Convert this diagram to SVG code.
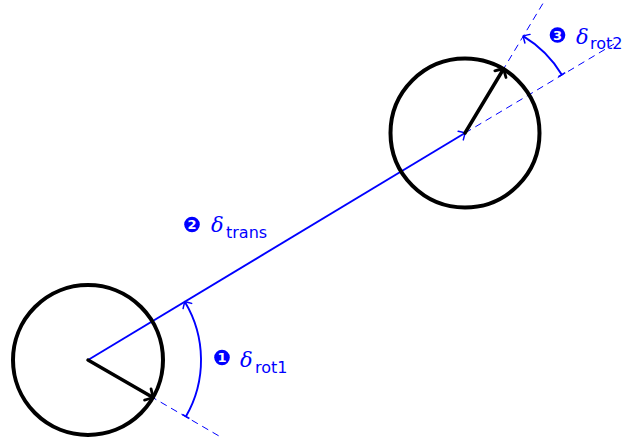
<svg xmlns="http://www.w3.org/2000/svg" width="624" height="441" viewBox="0 0 624 441">
<style>
.robot{fill:none;stroke:#000;stroke-width:4}
.head{fill:none;stroke:#000;stroke-width:3.5;stroke-linecap:round}
.dash{fill:none;stroke:#0000ff;stroke-width:1;stroke-dasharray:7,5}
.trans{fill:none;stroke:#0000ff;stroke-width:1.9}
.arc{fill:none;stroke:#0000ff;stroke-width:1.9}
.num{fill:#0000ff}
.numt{fill:#fff;font-family:"DejaVu Sans",sans-serif;font-weight:bold;font-size:13px;text-anchor:middle}
.delta{fill:#0000ff;font-family:"DejaVu Serif",serif;font-style:italic;font-size:21px}
.sub{fill:#0000ff;font-family:"DejaVu Sans",sans-serif;font-size:16px}
</style>
<defs>
<marker id="toBlack" markerUnits="userSpaceOnUse" orient="auto" overflow="visible" markerWidth="1" markerHeight="1">
<path d="M-6,-6.5 Q-1.2,-1.5 0,0 Q-1.2,1.5 -6,6.5" fill="none" stroke="#000" stroke-width="2.8" stroke-linecap="round"/>
</marker>
<marker id="toBlue" markerUnits="userSpaceOnUse" orient="auto" overflow="visible" markerWidth="1" markerHeight="1">
<path d="M-5,-5 Q-1,-1.2 0,0 Q-1,1.2 -5,5" fill="none" stroke="#0000ff" stroke-width="1.5" stroke-linecap="round"/>
</marker>
<marker id="bar" markerUnits="userSpaceOnUse" orient="auto" overflow="visible" markerWidth="1" markerHeight="1">
<path d="M0,-4 L0,4" fill="none" stroke="#0000ff" stroke-width="1.5"/>
</marker>
</defs>
<g id="connectors">
<line class="dash" x1="88" y1="360" x2="219" y2="436"/>
<line class="dash" x1="465" y1="133" x2="614" y2="44"/>
<line class="dash" x1="465" y1="133" x2="545" y2="0"/>
<line class="trans" x1="88" y1="360" x2="465" y2="133" marker-end="url(#toBlue)"/>
<path class="arc" d="M185.9,416.5 A113,113 0 0 0 184.8,301.7" marker-start="url(#bar)" marker-end="url(#toBlue)"/>
<path class="arc" d="M561.8,74.7 A113,113 0 0 0 523.2,36.1" marker-start="url(#bar)" marker-end="url(#toBlue)"/>
</g>
<g id="robot1">
<circle class="robot" cx="88" cy="360" r="75"/>
<line class="head" x1="88" y1="360" x2="153" y2="397.5" marker-end="url(#toBlack)"/>
</g>
<g id="robot2">
<circle class="robot" cx="465" cy="133" r="74.5"/>
<line class="head" x1="465" y1="133" x2="503.5" y2="69" marker-end="url(#toBlack)"/>
</g>
<g id="label-rot1">
<circle class="num" cx="222" cy="357.5" r="7.8"/>
<text class="numt" x="222" y="362.2">1</text>
<text class="delta" x="240" y="367">δ</text>
<text class="sub" x="255" y="373">rot1</text>
</g>
<g id="label-trans">
<circle class="num" cx="192" cy="224.5" r="7.8"/>
<text class="numt" x="192" y="229.2">2</text>
<text class="delta" x="211" y="232">δ</text>
<text class="sub" x="226" y="238">trans</text>
</g>
<g id="label-rot2">
<circle class="num" cx="557.5" cy="35" r="7.8"/>
<text class="numt" x="557.5" y="39.7">3</text>
<text class="delta" x="576" y="44">δ</text>
<text class="sub" x="590" y="49">rot2</text>
</g>
</svg>
